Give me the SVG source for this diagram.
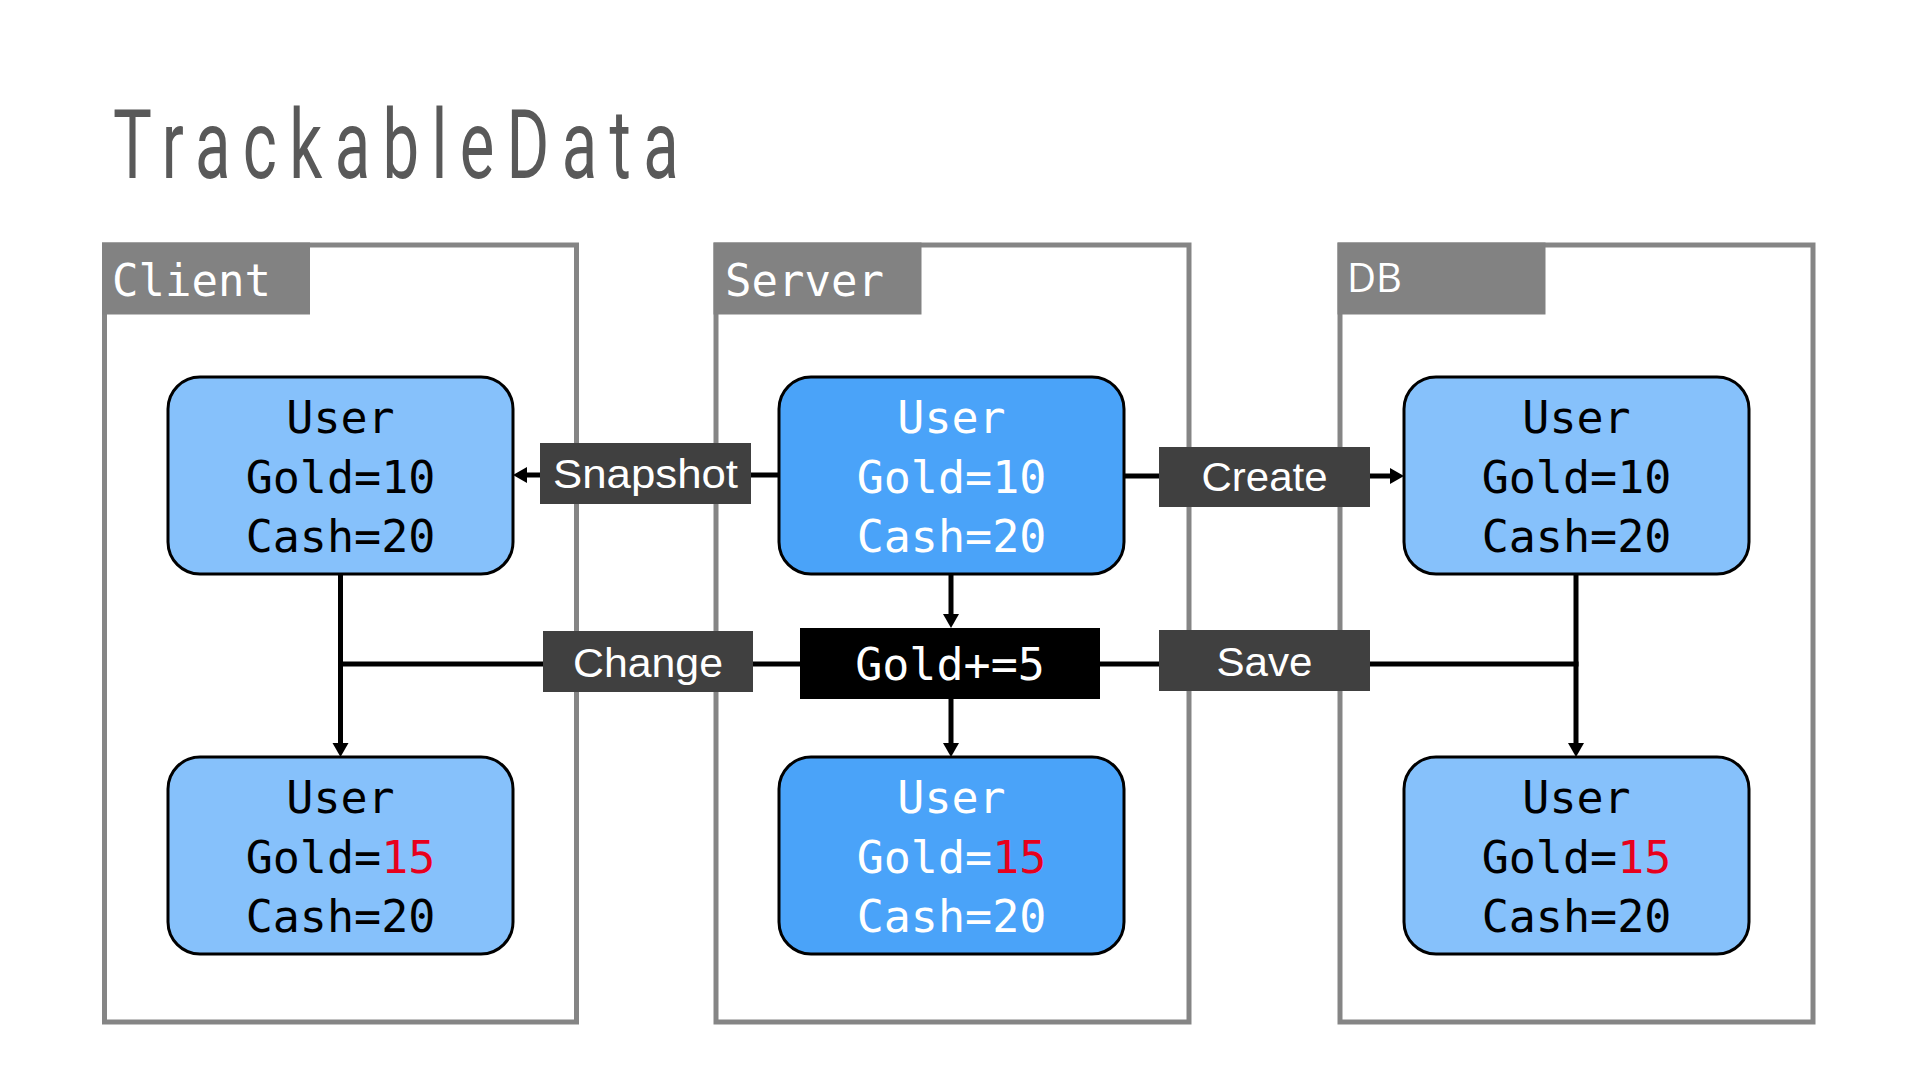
<svg xmlns="http://www.w3.org/2000/svg" width="1920" height="1080" viewBox="0 0 1920 1080">
<style>
.cont{fill:none;stroke:#858585;stroke-width:5}
.hdr{fill:#828282}
.hdrt{font-family:"DejaVu Sans Mono","Liberation Mono",monospace;font-size:44px;fill:#fff}
.hdrs{font-family:"Open Sans","Liberation Sans",sans-serif;font-size:40px;fill:#fff}
.node{stroke:#000;stroke-width:3}
.lt{fill:#86c1fb}
.dk{fill:#4aa3f9}
.nt{font-family:"DejaVu Sans Mono","Liberation Mono",monospace;font-size:45px;text-anchor:middle}
.nt.b{fill:#000}
.nt.w{fill:#fff}
.red{fill:#e8001c}
.lbl{fill:#404040}
.lt2{font-family:"Liberation Sans",Arial,sans-serif;font-size:40px;fill:#fff;text-anchor:middle}
.ln{stroke:#000;stroke-width:5;fill:none}
</style>
<defs>
<marker id="ah" markerUnits="userSpaceOnUse" markerWidth="16" markerHeight="18" refX="4" refY="8" orient="auto">
<path d="M0,0 L14,8 L0,16 z" fill="#000"/>
</marker>
</defs>
<rect width="1920" height="1080" fill="#fff"/>
<g id="title">
<text transform="translate(113,178) scale(0.68,1)" font-family="Roboto,'Liberation Sans',sans-serif" font-weight="400" font-size="96" fill="#595959" textLength="832" lengthAdjust="spacing">TrackableData</text>
</g>
<g id="client">
<rect class="cont" x="104.5" y="245" width="472" height="777"/>
<rect class="hdr" x="102" y="242.5" width="208" height="72"/>
<text class="hdrt" x="112" y="296">Client</text>
</g>
<g id="server">
<rect class="cont" x="716" y="245" width="473" height="777"/>
<rect class="hdr" x="713.5" y="242.5" width="208" height="72"/>
<text class="hdrt" x="725" y="296">Server</text>
</g>
<g id="db">
<rect class="cont" x="1340" y="245" width="473" height="777"/>
<rect class="hdr" x="1337.5" y="242.5" width="208" height="72"/>
<text class="hdrs" x="1347" y="292">DB</text>
</g>
<g id="connectors">
<line class="ln" x1="778" y1="475" x2="523" y2="475" marker-end="url(#ah)"/>
<line class="ln" x1="1124" y1="476" x2="1394" y2="476" marker-end="url(#ah)"/>
<line class="ln" x1="951" y1="574" x2="951" y2="618" marker-end="url(#ah)"/>
<line class="ln" x1="951" y1="699" x2="951" y2="747" marker-end="url(#ah)"/>
<line class="ln" x1="340.5" y1="574" x2="340.5" y2="747" marker-end="url(#ah)"/>
<line class="ln" x1="1576" y1="574" x2="1576" y2="747" marker-end="url(#ah)"/>
<line class="ln" x1="338" y1="664" x2="1578.5" y2="664"/>
</g>
<g id="client-user-before">
<rect class="node lt" x="168" y="377" width="345" height="197" rx="32"/>
<text class="nt b" x="340.5" y="433">User</text>
<text class="nt b" x="340.5" y="493">Gold=10</text>
<text class="nt b" x="340.5" y="552">Cash=20</text>
</g>
<g id="client-user-after">
<rect class="node lt" x="168" y="757" width="345" height="197" rx="32"/>
<text class="nt b" x="340.5" y="813">User</text>
<text class="nt b" x="340.5" y="873">Gold=<tspan class="red">15</tspan></text>
<text class="nt b" x="340.5" y="932">Cash=20</text>
</g>
<g id="server-user-before">
<rect class="node dk" x="779" y="377" width="345" height="197" rx="32"/>
<text class="nt w" x="951.5" y="433">User</text>
<text class="nt w" x="951.5" y="493">Gold=10</text>
<text class="nt w" x="951.5" y="552">Cash=20</text>
</g>
<g id="server-user-after">
<rect class="node dk" x="779" y="757" width="345" height="197" rx="32"/>
<text class="nt w" x="951.5" y="813">User</text>
<text class="nt w" x="951.5" y="873">Gold=<tspan class="red">15</tspan></text>
<text class="nt w" x="951.5" y="932">Cash=20</text>
</g>
<g id="db-user-before">
<rect class="node lt" x="1404" y="377" width="345" height="197" rx="32"/>
<text class="nt b" x="1576.5" y="433">User</text>
<text class="nt b" x="1576.5" y="493">Gold=10</text>
<text class="nt b" x="1576.5" y="552">Cash=20</text>
</g>
<g id="db-user-after">
<rect class="node lt" x="1404" y="757" width="345" height="197" rx="32"/>
<text class="nt b" x="1576.5" y="813">User</text>
<text class="nt b" x="1576.5" y="873">Gold=<tspan class="red">15</tspan></text>
<text class="nt b" x="1576.5" y="932">Cash=20</text>
</g>
<g id="snapshot">
<rect class="lbl" x="540" y="443" width="211" height="61"/>
<text class="lt2" x="645.5" y="488" textLength="185" lengthAdjust="spacingAndGlyphs">Snapshot</text>
</g>
<g id="create">
<rect class="lbl" x="1159" y="447" width="211" height="60"/>
<text class="lt2" x="1264.5" y="491" textLength="126" lengthAdjust="spacingAndGlyphs">Create</text>
</g>
<g id="change">
<rect class="lbl" x="543" y="631" width="210" height="61"/>
<text class="lt2" x="648" y="677" textLength="150" lengthAdjust="spacingAndGlyphs">Change</text>
</g>
<g id="gold-plus">
<rect fill="#000" x="800" y="628" width="300" height="71"/>
<text class="nt w" x="950" y="680">Gold+=5</text>
</g>
<g id="save">
<rect class="lbl" x="1159" y="630" width="211" height="61"/>
<text class="lt2" x="1264.5" y="676" textLength="96" lengthAdjust="spacingAndGlyphs">Save</text>
</g>
</svg>
